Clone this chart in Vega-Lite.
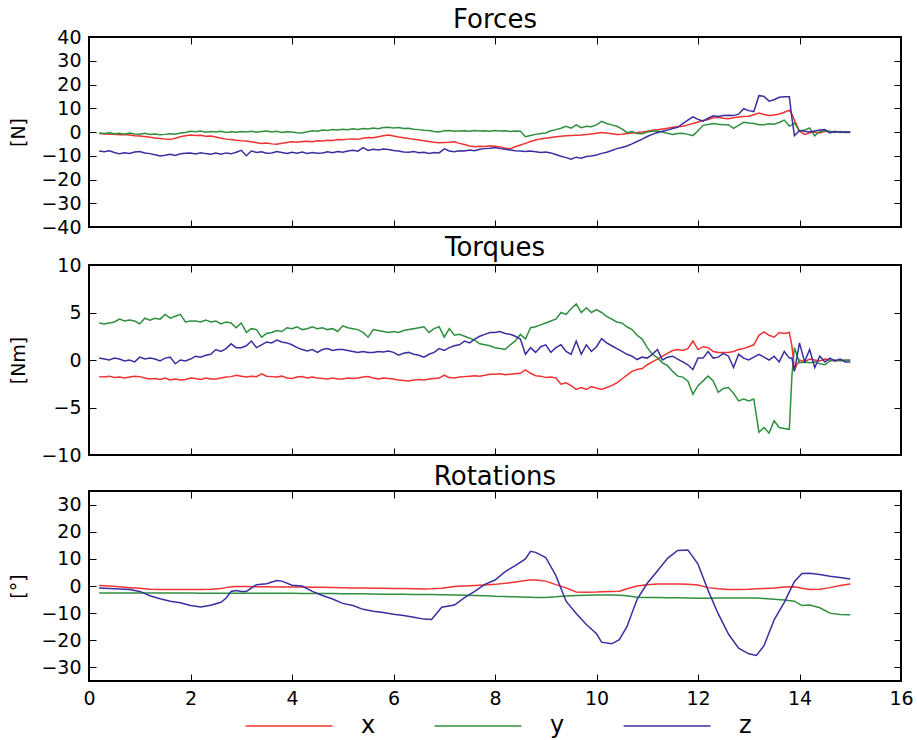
{
  "$schema": "https://vega.github.io/schema/vega-lite/v6.json",
  "padding": {"left": 8, "top": 6, "right": 14, "bottom": 4},
  "datasets": {
    "forces": [
      {"t":0.2,"x":-0.6,"y":-0.4,"z":-8.0},{"t":0.3,"x":-0.8,"y":-0.6,"z":-8.3},{"t":0.4,"x":-0.9,"y":-0.3,"z":-7.9},{"t":0.5,"x":-1.0,"y":-0.7,"z":-8.6},{"t":0.6,"x":-1.2,"y":-0.5,"z":-9.2},{"t":0.7,"x":-1.1,"y":-0.9,"z":-8.7},{"t":0.8,"x":-1.3,"y":-0.4,"z":-9.0},{"t":0.9,"x":-1.6,"y":-0.8,"z":-8.4},
      {"t":1.0,"x":-1.7,"y":-0.9,"z":-8.2},{"t":1.1,"x":-1.9,"y":-0.5,"z":-8.8},{"t":1.2,"x":-2.2,"y":-1.0,"z":-9.1},{"t":1.3,"x":-2.5,"y":-0.8,"z":-9.6},{"t":1.4,"x":-2.7,"y":-1.2,"z":-10.1},{"t":1.5,"x":-3.0,"y":-1.0,"z":-9.8},{"t":1.6,"x":-3.1,"y":-0.7,"z":-9.4},{"t":1.7,"x":-2.6,"y":-0.9,"z":-9.9},{"t":1.8,"x":-2.0,"y":-0.4,"z":-9.2},{"t":1.9,"x":-1.6,"y":-0.2,"z":-8.9},
      {"t":2.0,"x":-1.3,"y":0.3,"z":-8.8},{"t":2.1,"x":-1.5,"y":0.1,"z":-9.3},{"t":2.2,"x":-1.4,"y":0.4,"z":-8.7},{"t":2.3,"x":-1.8,"y":-0.1,"z":-9.1},{"t":2.4,"x":-1.7,"y":0.2,"z":-9.4},{"t":2.5,"x":-2.1,"y":0.0,"z":-8.9},{"t":2.6,"x":-2.6,"y":0.3,"z":-9.4},{"t":2.7,"x":-3.0,"y":-0.2,"z":-8.8},{"t":2.8,"x":-3.2,"y":0.1,"z":-9.2},{"t":2.9,"x":-3.5,"y":-0.1,"z":-8.5},
      {"t":3.0,"x":-3.7,"y":0.2,"z":-7.7},{"t":3.1,"x":-3.8,"y":0.0,"z":-10.0},{"t":3.2,"x":-4.1,"y":0.3,"z":-8.0},{"t":3.3,"x":-4.5,"y":-0.1,"z":-8.6},{"t":3.4,"x":-4.8,"y":0.2,"z":-8.3},{"t":3.5,"x":-4.6,"y":0.4,"z":-8.9},{"t":3.6,"x":-5.0,"y":0.0,"z":-8.8},{"t":3.7,"x":-5.2,"y":0.3,"z":-8.2},{"t":3.8,"x":-4.7,"y":-0.2,"z":-8.6},{"t":3.9,"x":-4.4,"y":0.1,"z":-9.0},
      {"t":4.0,"x":-4.1,"y":0.0,"z":-8.5},{"t":4.1,"x":-4.3,"y":-0.3,"z":-8.9},{"t":4.2,"x":-4.0,"y":-0.4,"z":-8.4},{"t":4.3,"x":-3.9,"y":0.1,"z":-9.0},{"t":4.4,"x":-4.1,"y":0.5,"z":-8.6},{"t":4.5,"x":-3.7,"y":0.3,"z":-8.9},{"t":4.6,"x":-3.8,"y":0.8,"z":-8.8},{"t":4.7,"x":-3.5,"y":0.6,"z":-8.3},{"t":4.8,"x":-3.6,"y":1.0,"z":-8.7},{"t":4.9,"x":-3.2,"y":0.8,"z":-8.2},
      {"t":5.0,"x":-3.3,"y":1.2,"z":-8.5},{"t":5.1,"x":-3.0,"y":1.0,"z":-8.0},{"t":5.2,"x":-2.9,"y":1.4,"z":-7.7},{"t":5.3,"x":-3.1,"y":1.1,"z":-8.1},{"t":5.4,"x":-2.6,"y":1.5,"z":-6.6},{"t":5.5,"x":-2.3,"y":1.3,"z":-7.8},{"t":5.6,"x":-2.4,"y":1.7,"z":-7.3},{"t":5.7,"x":-2.0,"y":1.4,"z":-7.6},{"t":5.8,"x":-1.6,"y":1.9,"z":-7.2},{"t":5.9,"x":-1.3,"y":2.0,"z":-7.4},
      {"t":6.0,"x":-1.7,"y":1.7,"z":-7.8},{"t":6.1,"x":-2.1,"y":1.9,"z":-8.0},{"t":6.2,"x":-2.4,"y":1.5,"z":-8.4},{"t":6.3,"x":-2.7,"y":1.6,"z":-8.5},{"t":6.4,"x":-3.1,"y":1.2,"z":-8.2},{"t":6.5,"x":-3.4,"y":1.0,"z":-8.7},{"t":6.6,"x":-3.7,"y":0.7,"z":-8.5},{"t":6.7,"x":-4.0,"y":0.6,"z":-9.0},{"t":6.8,"x":-4.3,"y":0.2,"z":-8.6},{"t":6.9,"x":-4.5,"y":0.0,"z":-8.8},
      {"t":7.0,"x":-4.4,"y":0.5,"z":-7.1},{"t":7.1,"x":-4.3,"y":0.6,"z":-8.0},{"t":7.2,"x":-4.1,"y":0.3,"z":-8.3},{"t":7.3,"x":-4.8,"y":0.4,"z":-7.9},{"t":7.4,"x":-5.3,"y":0.5,"z":-8.0},{"t":7.5,"x":-5.9,"y":0.3,"z":-7.6},{"t":7.6,"x":-6.2,"y":0.6,"z":-7.9},{"t":7.7,"x":-6.0,"y":0.4,"z":-7.3},{"t":7.8,"x":-6.1,"y":0.5,"z":-7.0},{"t":7.9,"x":-5.8,"y":0.3,"z":-6.8},
      {"t":8.0,"x":-6.0,"y":0.6,"z":-6.5},{"t":8.1,"x":-6.3,"y":0.4,"z":-7.0},{"t":8.2,"x":-6.8,"y":0.5,"z":-7.3},{"t":8.3,"x":-7.0,"y":0.2,"z":-7.6},{"t":8.4,"x":-6.2,"y":0.4,"z":-7.9},{"t":8.5,"x":-5.5,"y":0.3,"z":-8.0},{"t":8.6,"x":-4.8,"y":-2.0,"z":-8.2},{"t":8.7,"x":-4.0,"y":-1.5,"z":-8.0},{"t":8.8,"x":-3.4,"y":-1.0,"z":-8.3},{"t":8.9,"x":-2.9,"y":-0.6,"z":-8.6},
      {"t":9.0,"x":-2.6,"y":-0.4,"z":-8.4},{"t":9.1,"x":-2.3,"y":0.5,"z":-8.8},{"t":9.2,"x":-2.0,"y":1.0,"z":-9.5},{"t":9.3,"x":-1.8,"y":1.6,"z":-10.2},{"t":9.4,"x":-1.6,"y":2.4,"z":-10.8},{"t":9.5,"x":-1.5,"y":1.6,"z":-11.5},{"t":9.6,"x":-1.4,"y":3.0,"z":-10.6},{"t":9.7,"x":-1.3,"y":1.8,"z":-11.0},{"t":9.8,"x":-1.1,"y":2.4,"z":-10.3},{"t":9.9,"x":-0.8,"y":2.2,"z":-10.1},
      {"t":10.0,"x":-0.5,"y":3.0,"z":-9.7},{"t":10.1,"x":-0.2,"y":4.5,"z":-9.0},{"t":10.2,"x":-0.4,"y":3.6,"z":-8.5},{"t":10.3,"x":-0.7,"y":3.0,"z":-7.8},{"t":10.4,"x":-1.0,"y":2.4,"z":-7.0},{"t":10.5,"x":-0.9,"y":1.3,"z":-6.5},{"t":10.6,"x":-0.6,"y":-0.3,"z":-5.9},{"t":10.7,"x":-0.4,"y":0.2,"z":-5.0},{"t":10.8,"x":-0.2,"y":-0.6,"z":-4.0},{"t":10.9,"x":0.0,"y":-0.7,"z":-3.0},
      {"t":11.0,"x":0.3,"y":0.0,"z":-1.9},{"t":11.1,"x":0.7,"y":0.3,"z":-1.0},{"t":11.2,"x":1.0,"y":0.4,"z":-0.2},{"t":11.3,"x":1.3,"y":0.0,"z":0.3},{"t":11.4,"x":1.6,"y":-0.5,"z":0.8},{"t":11.5,"x":2.0,"y":-1.0,"z":1.5},{"t":11.6,"x":2.2,"y":-0.6,"z":2.0},{"t":11.7,"x":2.4,"y":-0.5,"z":3.5},{"t":11.8,"x":3.0,"y":-1.0,"z":5.0},{"t":11.9,"x":3.6,"y":-1.5,"z":6.4},
      {"t":12.0,"x":4.2,"y":0.5,"z":5.3},{"t":12.1,"x":4.8,"y":2.8,"z":4.6},{"t":12.2,"x":5.3,"y":3.2,"z":5.8},{"t":12.3,"x":6.0,"y":3.6,"z":6.8},{"t":12.4,"x":6.2,"y":3.3,"z":6.5},{"t":12.5,"x":5.8,"y":3.1,"z":6.9},{"t":12.6,"x":5.6,"y":3.1,"z":7.0},{"t":12.7,"x":6.0,"y":1.5,"z":6.9},{"t":12.8,"x":6.3,"y":2.8,"z":7.5},{"t":12.9,"x":6.5,"y":4.1,"z":9.8},
      {"t":13.0,"x":6.6,"y":3.8,"z":9.0},{"t":13.1,"x":7.3,"y":3.6,"z":8.6},{"t":13.2,"x":8.0,"y":3.1,"z":15.3},{"t":13.3,"x":7.4,"y":3.1,"z":15.0},{"t":13.4,"x":7.0,"y":3.5,"z":13.0},{"t":13.5,"x":7.2,"y":3.3,"z":13.6},{"t":13.6,"x":7.6,"y":4.0,"z":14.6},{"t":13.7,"x":8.3,"y":5.0,"z":14.8},{"t":13.8,"x":9.2,"y":2.5,"z":14.8},{"t":13.85,"x":7.5,"y":3.0,"z":6.0},{"t":13.9,"x":5.0,"y":3.8,"z":-1.5},
      {"t":14.0,"x":0.3,"y":0.4,"z":0.6},{"t":14.1,"x":-1.0,"y":0.8,"z":0.3},{"t":14.2,"x":-0.3,"y":1.7,"z":0.0},{"t":14.3,"x":0.0,"y":-1.6,"z":0.4},{"t":14.4,"x":-0.4,"y":0.2,"z":0.8},{"t":14.5,"x":0.3,"y":0.6,"z":1.0},{"t":14.6,"x":0.0,"y":0.3,"z":-0.4},{"t":14.7,"x":-0.2,"y":-0.1,"z":0.3},{"t":14.8,"x":0.2,"y":0.2,"z":-0.2},{"t":14.9,"x":-0.1,"y":-0.2,"z":0.1},{"t":15.0,"x":0.0,"y":-0.2,"z":0.0}
    ],
    "torques": [
      {"t":0.2,"x":-1.75,"y":3.9,"z":0.2},{"t":0.3,"x":-1.8,"y":3.8,"z":0.1},{"t":0.4,"x":-1.7,"y":3.9,"z":0.0},{"t":0.5,"x":-1.85,"y":4.0,"z":0.2},{"t":0.6,"x":-1.8,"y":4.3,"z":0.1},{"t":0.7,"x":-1.9,"y":4.1,"z":-0.1},{"t":0.8,"x":-1.8,"y":4.2,"z":0.0},{"t":0.9,"x":-1.7,"y":4.1,"z":-0.2},
      {"t":1.0,"x":-1.75,"y":3.8,"z":0.3},{"t":1.1,"x":-1.9,"y":4.4,"z":0.1},{"t":1.2,"x":-2.0,"y":4.2,"z":0.2},{"t":1.3,"x":-1.95,"y":4.4,"z":0.1},{"t":1.4,"x":-2.05,"y":4.3,"z":-0.1},{"t":1.5,"x":-1.9,"y":4.8,"z":0.2},{"t":1.6,"x":-2.1,"y":4.4,"z":0.3},{"t":1.7,"x":-2.0,"y":4.6,"z":-0.4},{"t":1.8,"x":-2.1,"y":4.8,"z":0.0},{"t":1.9,"x":-2.05,"y":4.0,"z":-0.1},
      {"t":2.0,"x":-1.9,"y":4.1,"z":0.1},{"t":2.1,"x":-1.95,"y":4.1,"z":0.4},{"t":2.2,"x":-2.05,"y":4.0,"z":0.3},{"t":2.3,"x":-1.9,"y":4.2,"z":0.5},{"t":2.4,"x":-2.0,"y":4.0,"z":0.6},{"t":2.5,"x":-2.0,"y":4.1,"z":1.1},{"t":2.6,"x":-1.9,"y":3.8,"z":0.9},{"t":2.7,"x":-1.8,"y":4.0,"z":1.2},{"t":2.8,"x":-1.75,"y":3.9,"z":1.7},{"t":2.9,"x":-1.6,"y":3.4,"z":1.3},
      {"t":3.0,"x":-1.7,"y":3.9,"z":1.3},{"t":3.1,"x":-1.8,"y":2.9,"z":1.5},{"t":3.2,"x":-1.7,"y":3.3,"z":2.0},{"t":3.3,"x":-1.75,"y":3.2,"z":1.3},{"t":3.4,"x":-1.45,"y":2.4,"z":1.6},{"t":3.5,"x":-1.7,"y":2.8,"z":1.9},{"t":3.6,"x":-1.75,"y":2.9,"z":1.8},{"t":3.7,"x":-1.8,"y":3.1,"z":2.1},{"t":3.8,"x":-1.7,"y":3.0,"z":1.9},{"t":3.9,"x":-1.9,"y":3.4,"z":1.8},
      {"t":4.0,"x":-1.95,"y":3.3,"z":1.6},{"t":4.1,"x":-1.8,"y":3.5,"z":1.3},{"t":4.2,"x":-1.75,"y":3.2,"z":1.1},{"t":4.3,"x":-1.9,"y":3.3,"z":0.95},{"t":4.4,"x":-1.8,"y":3.5,"z":1.1},{"t":4.5,"x":-1.9,"y":3.3,"z":0.8},{"t":4.6,"x":-1.95,"y":3.4,"z":1.1},{"t":4.7,"x":-2.0,"y":3.2,"z":1.2},{"t":4.8,"x":-1.9,"y":3.3,"z":1.0},{"t":4.9,"x":-2.0,"y":3.0,"z":1.1},
      {"t":5.0,"x":-2.0,"y":3.6,"z":1.1},{"t":5.1,"x":-1.9,"y":3.4,"z":1.0},{"t":5.2,"x":-1.95,"y":3.3,"z":0.9},{"t":5.3,"x":-1.9,"y":3.2,"z":0.8},{"t":5.4,"x":-1.8,"y":2.9,"z":0.9},{"t":5.5,"x":-1.75,"y":2.4,"z":0.8},{"t":5.6,"x":-1.9,"y":3.2,"z":0.8},{"t":5.7,"x":-2.0,"y":3.1,"z":0.9},{"t":5.8,"x":-1.9,"y":3.0,"z":0.85},{"t":5.9,"x":-1.95,"y":2.9,"z":0.95},
      {"t":6.0,"x":-2.0,"y":3.0,"z":0.8},{"t":6.1,"x":-2.1,"y":2.9,"z":0.5},{"t":6.2,"x":-2.15,"y":3.1,"z":0.7},{"t":6.3,"x":-2.2,"y":3.2,"z":0.8},{"t":6.4,"x":-2.1,"y":3.3,"z":0.6},{"t":6.5,"x":-2.05,"y":3.4,"z":0.5},{"t":6.6,"x":-2.1,"y":3.5,"z":0.3},{"t":6.7,"x":-2.0,"y":2.9,"z":0.6},{"t":6.8,"x":-1.95,"y":3.3,"z":0.8},{"t":6.9,"x":-1.9,"y":3.5,"z":1.2},
      {"t":7.0,"x":-1.6,"y":2.4,"z":1.0},{"t":7.1,"x":-1.85,"y":3.3,"z":1.3},{"t":7.2,"x":-1.9,"y":2.6,"z":1.5},{"t":7.3,"x":-1.8,"y":2.7,"z":1.6},{"t":7.4,"x":-1.75,"y":2.5,"z":2.0},{"t":7.5,"x":-1.7,"y":2.3,"z":1.8},{"t":7.6,"x":-1.65,"y":2.1,"z":2.2},{"t":7.7,"x":-1.7,"y":1.7,"z":2.5},{"t":7.8,"x":-1.6,"y":1.6,"z":2.7},{"t":7.9,"x":-1.5,"y":1.5,"z":2.9},
      {"t":8.0,"x":-1.5,"y":1.3,"z":2.9},{"t":8.1,"x":-1.45,"y":1.2,"z":3.0},{"t":8.2,"x":-1.55,"y":1.1,"z":2.8},{"t":8.3,"x":-1.5,"y":1.6,"z":2.7},{"t":8.4,"x":-1.45,"y":2.0,"z":2.5},{"t":8.5,"x":-1.4,"y":2.7,"z":2.2},{"t":8.6,"x":-1.05,"y":2.2,"z":0.6},{"t":8.7,"x":-1.4,"y":3.4,"z":1.3},{"t":8.8,"x":-1.65,"y":3.5,"z":0.8},{"t":8.9,"x":-1.7,"y":3.7,"z":1.4},
      {"t":9.0,"x":-1.85,"y":3.9,"z":1.6},{"t":9.1,"x":-1.8,"y":4.1,"z":0.8},{"t":9.2,"x":-1.9,"y":4.3,"z":1.3},{"t":9.3,"x":-2.55,"y":5.0,"z":1.6},{"t":9.4,"x":-2.4,"y":4.8,"z":0.9},{"t":9.5,"x":-2.7,"y":5.4,"z":0.6},{"t":9.6,"x":-3.1,"y":5.9,"z":2.0},{"t":9.7,"x":-2.9,"y":5.0,"z":0.6},{"t":9.8,"x":-3.1,"y":5.5,"z":1.6},{"t":9.9,"x":-2.8,"y":5.0,"z":0.9},
      {"t":10.0,"x":-2.95,"y":5.3,"z":1.4},{"t":10.1,"x":-3.1,"y":5.0,"z":2.25},{"t":10.2,"x":-2.9,"y":4.6,"z":1.8},{"t":10.3,"x":-2.7,"y":4.3,"z":1.5},{"t":10.4,"x":-2.4,"y":4.0,"z":1.2},{"t":10.5,"x":-2.0,"y":3.9,"z":0.9},{"t":10.6,"x":-1.6,"y":3.5,"z":0.6},{"t":10.7,"x":-1.2,"y":3.2,"z":0.4},{"t":10.8,"x":-1.0,"y":2.6,"z":0.05},{"t":10.9,"x":-0.9,"y":2.2,"z":0.3},
      {"t":11.0,"x":-0.5,"y":1.3,"z":0.2},{"t":11.1,"x":-0.2,"y":0.6,"z":0.6},{"t":11.2,"x":0.1,"y":0.25,"z":1.1},{"t":11.3,"x":0.4,"y":-0.3,"z":0.0},{"t":11.4,"x":0.7,"y":-0.6,"z":0.3},{"t":11.5,"x":1.0,"y":-1.2,"z":0.4},{"t":11.6,"x":1.1,"y":-1.7,"z":0.1},{"t":11.7,"x":1.0,"y":-1.8,"z":-0.2},{"t":11.8,"x":1.2,"y":-2.2,"z":-0.5},{"t":11.9,"x":2.0,"y":-3.6,"z":-1.0},
      {"t":12.0,"x":1.1,"y":-2.7,"z":0.2},{"t":12.1,"x":1.4,"y":-2.2,"z":0.2},{"t":12.2,"x":1.3,"y":-1.7,"z":0.9},{"t":12.3,"x":0.9,"y":-2.2,"z":0.2},{"t":12.4,"x":0.8,"y":-3.4,"z":0.3},{"t":12.5,"x":0.8,"y":-3.0,"z":0.7},{"t":12.6,"x":0.8,"y":-2.9,"z":0.4},{"t":12.7,"x":0.9,"y":-3.5,"z":-0.8},{"t":12.8,"x":1.1,"y":-4.3,"z":0.6},{"t":12.9,"x":1.2,"y":-4.1,"z":0.2},
      {"t":13.0,"x":1.4,"y":-4.3,"z":0.0},{"t":13.1,"x":1.6,"y":-4.1,"z":0.3},{"t":13.2,"x":2.6,"y":-7.6,"z":0.6},{"t":13.3,"x":2.95,"y":-7.1,"z":0.3},{"t":13.4,"x":2.6,"y":-7.7,"z":0.0},{"t":13.5,"x":2.4,"y":-6.4,"z":0.4},{"t":13.6,"x":2.9,"y":-7.1,"z":-0.2},{"t":13.7,"x":2.8,"y":-7.2,"z":0.9},{"t":13.8,"x":2.9,"y":-7.3,"z":0.2},{"t":13.85,"x":1.5,"y":-1.7,"z":0.2},{"t":13.9,"x":-1.0,"y":1.3,"z":-1.2},
      {"t":14.0,"x":0.0,"y":-0.3,"z":1.8},{"t":14.1,"x":-0.2,"y":-0.2,"z":-0.2},{"t":14.2,"x":0.1,"y":-0.3,"z":1.1},{"t":14.3,"x":0.0,"y":-0.2,"z":-0.8},{"t":14.4,"x":-0.1,"y":-0.4,"z":0.4},{"t":14.5,"x":0.1,"y":-0.5,"z":-0.2},{"t":14.6,"x":0.0,"y":-0.1,"z":0.2},{"t":14.7,"x":-0.1,"y":0.0,"z":-0.1},{"t":14.8,"x":0.0,"y":-0.1,"z":0.1},{"t":14.9,"x":-0.05,"y":0.0,"z":-0.2},{"t":15.0,"x":0.0,"y":-0.05,"z":-0.2}
    ],
    "rotations": [
      {"t":0.2,"x":0.15,"y":-2.6,"z":-0.7},{"t":0.4,"x":0.0,"y":-2.6,"z":-0.9},{"t":0.6,"x":-0.3,"y":-2.6,"z":-1.1},{"t":0.8,"x":-0.6,"y":-2.6,"z":-1.3},{"t":1.0,"x":-0.85,"y":-2.6,"z":-2.0},{"t":1.2,"x":-1.2,"y":-2.6,"z":-3.6},{"t":1.4,"x":-1.3,"y":-2.6,"z":-4.7},{"t":1.6,"x":-1.3,"y":-2.6,"z":-5.6},{"t":1.8,"x":-1.3,"y":-2.6,"z":-6.2},
      {"t":2.0,"x":-1.3,"y":-2.6,"z":-7.2},{"t":2.2,"x":-1.3,"y":-2.65,"z":-7.7},{"t":2.4,"x":-1.2,"y":-2.65,"z":-7.1},{"t":2.6,"x":-0.9,"y":-2.65,"z":-6.0},{"t":2.7,"x":-0.6,"y":-2.65,"z":-4.5},{"t":2.8,"x":-0.3,"y":-2.65,"z":-2.0},{"t":2.9,"x":-0.2,"y":-2.65,"z":-1.7},{"t":3.0,"x":-0.2,"y":-2.7,"z":-2.0},{"t":3.1,"x":-0.2,"y":-2.7,"z":-2.0},
      {"t":3.3,"x":-0.3,"y":-2.7,"z":0.5},{"t":3.5,"x":-0.3,"y":-2.7,"z":0.8},{"t":3.7,"x":-0.35,"y":-2.7,"z":2.0},{"t":3.8,"x":-0.35,"y":-2.7,"z":1.8},{"t":4.0,"x":-0.4,"y":-2.7,"z":0.3},{"t":4.2,"x":-0.4,"y":-2.75,"z":0.0},{"t":4.4,"x":-0.45,"y":-2.75,"z":-2.0},{"t":4.6,"x":-0.5,"y":-2.8,"z":-3.5},{"t":4.8,"x":-0.55,"y":-2.8,"z":-4.8},
      {"t":5.0,"x":-0.6,"y":-2.85,"z":-6.4},{"t":5.2,"x":-0.7,"y":-2.9,"z":-7.2},{"t":5.4,"x":-0.75,"y":-2.9,"z":-8.6},{"t":5.6,"x":-0.8,"y":-2.95,"z":-9.3},{"t":5.8,"x":-0.85,"y":-3.0,"z":-9.8},{"t":6.0,"x":-0.9,"y":-3.0,"z":-10.4},{"t":6.2,"x":-0.95,"y":-3.05,"z":-10.9},{"t":6.4,"x":-1.0,"y":-3.1,"z":-11.5},{"t":6.6,"x":-1.1,"y":-3.1,"z":-12.2},{"t":6.75,"x":-1.05,"y":-3.15,"z":-12.3},
      {"t":6.95,"x":-0.8,"y":-3.2,"z":-7.8},{"t":7.2,"x":-0.2,"y":-3.3,"z":-7.0},{"t":7.4,"x":0.0,"y":-3.4,"z":-4.3},{"t":7.6,"x":0.2,"y":-3.5,"z":-2.0},{"t":7.8,"x":0.4,"y":-3.6,"z":0.6},{"t":8.0,"x":0.6,"y":-3.8,"z":2.2},{"t":8.2,"x":1.0,"y":-3.9,"z":5.3},{"t":8.4,"x":1.5,"y":-4.0,"z":7.5},{"t":8.6,"x":2.0,"y":-4.1,"z":10.0},{"t":8.7,"x":2.2,"y":-4.15,"z":12.8},{"t":8.8,"x":2.2,"y":-4.2,"z":12.4},
      {"t":9.0,"x":1.8,"y":-4.2,"z":10.5},{"t":9.2,"x":0.5,"y":-4.0,"z":3.8},{"t":9.4,"x":-0.7,"y":-3.7,"z":-5.6},{"t":9.6,"x":-2.2,"y":-3.5,"z":-10.1},{"t":9.8,"x":-2.3,"y":-3.4,"z":-14.2},{"t":10.0,"x":-2.2,"y":-3.3,"z":-17.6},{"t":10.1,"x":-2.1,"y":-3.3,"z":-20.7},{"t":10.3,"x":-2.0,"y":-3.35,"z":-21.3},{"t":10.45,"x":-1.9,"y":-3.4,"z":-19.8},{"t":10.6,"x":-1.0,"y":-3.6,"z":-15.0},{"t":10.8,"x":0.0,"y":-4.1,"z":-4.9},
      {"t":11.0,"x":0.5,"y":-4.2,"z":1.0},{"t":11.2,"x":0.7,"y":-4.25,"z":5.5},{"t":11.4,"x":0.7,"y":-4.3,"z":10.2},{"t":11.6,"x":0.7,"y":-4.35,"z":13.1},{"t":11.8,"x":0.6,"y":-4.4,"z":13.3},{"t":12.0,"x":0.4,"y":-4.5,"z":8.1},{"t":12.2,"x":-0.6,"y":-4.5,"z":-1.7},{"t":12.4,"x":-1.0,"y":-4.45,"z":-10.3},{"t":12.6,"x":-1.3,"y":-4.45,"z":-17.7},{"t":12.8,"x":-1.3,"y":-4.4,"z":-22.9},
      {"t":13.0,"x":-1.2,"y":-4.4,"z":-25.0},{"t":13.15,"x":-1.0,"y":-4.45,"z":-25.6},{"t":13.3,"x":-0.9,"y":-4.6,"z":-22.0},{"t":13.5,"x":-0.7,"y":-4.9,"z":-12.5},{"t":13.7,"x":-0.4,"y":-5.2,"z":-6.0},{"t":13.9,"x":-0.3,"y":-5.6,"z":1.7},{"t":14.05,"x":-0.8,"y":-7.2,"z":4.6},{"t":14.2,"x":-1.3,"y":-7.0,"z":4.7},{"t":14.4,"x":-1.2,"y":-8.0,"z":4.2},{"t":14.6,"x":-0.6,"y":-10.0,"z":3.6},{"t":14.8,"x":0.2,"y":-10.5,"z":3.1},{"t":15.0,"x":0.7,"y":-10.6,"z":2.6}
    ]
  },
  "config": {
    "font": "DejaVu Sans",
    "view": {"stroke": "#000000", "strokeWidth": 2},
    "axis": {"grid": false, "domain": false, "tickColor": "#000000", "tickSize": -7, "tickWidth": 1, "labelFontSize": 19, "labelColor": "#000000", "labelPadding": 15, "titleFontSize": 19, "titleFontWeight": "normal", "titleColor": "#000000", "titlePadding": 12, "labelFlush": false, "labelOverlap": false},
    "title": {"fontSize": 26, "fontWeight": "normal", "color": "#000000", "offset": -5, "anchor": "middle", "frame": "group"},
    "legend": {"orient": "bottom", "direction": "horizontal", "symbolType": "M-1,0H15", "symbolSize": 118, "symbolStrokeWidth": 1.5, "labelFontSize": 24, "labelColor": "#000000", "labelOffset": 98, "columnPadding": 52, "offset": 5, "padding": 0, "layout": {"bottom": {"anchor": "middle"}}},
    "concat": {"spacing": -4}
  },
  "resolve": {"scale": {"color": "shared"}, "legend": {"color": "shared"}},
  "vconcat": [
    {
      "title": "Forces",
      "width": 812, "height": 190,
      "data": {"name": "forces"},
      "transform": [{"fold": ["x", "y", "z"], "as": ["comp", "val"]}],
      "layer": [
        {"mark": {"type": "line", "strokeWidth": 1.5},
         "encoding": {
           "x": {"field": "t", "type": "quantitative", "scale": {"domain": [0, 16], "nice": false, "zero": false}, "axis": {"orient": "bottom", "values": [0,2,4,6,8,10,12,14,16], "labels": false, "title": null, "minExtent": 0, "maxExtent": 0}},
           "y": {"field": "val", "type": "quantitative", "scale": {"domain": [-40, 40], "nice": false}, "axis": {"orient": "left", "values": [-40,-30,-20,-10,0,10,20,30,40], "title": "[N]"}},
           "color": {"field": "comp", "type": "nominal", "scale": {"domain": ["x", "y", "z"], "range": ["#f03232", "#2f8f3f", "#3a2f9e"]}, "legend": {"title": null}},
           "order": {"field": "t", "type": "quantitative"}
         }},
        {"mark": {"type": "point", "opacity": 0},
         "encoding": {
           "x": {"field": "t", "type": "quantitative", "scale": {"domain": [0, 16], "nice": false, "zero": false}, "axis": {"orient": "top", "values": [0,2,4,6,8,10,12,14,16], "labels": false, "title": null, "minExtent": 0, "maxExtent": 0}},
           "y": {"field": "val", "type": "quantitative", "scale": {"domain": [-40, 40], "nice": false}, "axis": {"orient": "right", "values": [-40,-30,-20,-10,0,10,20,30,40], "labels": false, "title": null, "minExtent": 0, "maxExtent": 0}}
         }}
      ],
      "resolve": {"axis": {"x": "independent", "y": "independent"}}
    },
    {
      "title": "Torques",
      "width": 812, "height": 190,
      "data": {"name": "torques"},
      "transform": [{"fold": ["x", "y", "z"], "as": ["comp", "val"]}],
      "layer": [
        {"mark": {"type": "line", "strokeWidth": 1.5},
         "encoding": {
           "x": {"field": "t", "type": "quantitative", "scale": {"domain": [0, 16], "nice": false, "zero": false}, "axis": {"orient": "bottom", "values": [0,2,4,6,8,10,12,14,16], "labels": false, "title": null, "minExtent": 0, "maxExtent": 0}},
           "y": {"field": "val", "type": "quantitative", "scale": {"domain": [-10, 10], "nice": false}, "axis": {"orient": "left", "values": [-10,-5,0,5,10], "title": "[Nm]"}},
           "color": {"field": "comp", "type": "nominal", "scale": {"domain": ["x", "y", "z"], "range": ["#f03232", "#2f8f3f", "#3a2f9e"]}, "legend": {"title": null}},
           "order": {"field": "t", "type": "quantitative"}
         }},
        {"mark": {"type": "point", "opacity": 0},
         "encoding": {
           "x": {"field": "t", "type": "quantitative", "scale": {"domain": [0, 16], "nice": false, "zero": false}, "axis": {"orient": "top", "values": [0,2,4,6,8,10,12,14,16], "labels": false, "title": null, "minExtent": 0, "maxExtent": 0}},
           "y": {"field": "val", "type": "quantitative", "scale": {"domain": [-10, 10], "nice": false}, "axis": {"orient": "right", "values": [-10,-5,0,5,10], "labels": false, "title": null, "minExtent": 0, "maxExtent": 0}}
         }}
      ],
      "resolve": {"axis": {"x": "independent", "y": "independent"}}
    },
    {
      "title": {"text": "Rotations", "offset": 1},
      "width": 812, "height": 190,
      "data": {"name": "rotations"},
      "transform": [{"fold": ["x", "y", "z"], "as": ["comp", "val"]}],
      "layer": [
        {"mark": {"type": "line", "strokeWidth": 1.5},
         "encoding": {
           "x": {"field": "t", "type": "quantitative", "scale": {"domain": [0, 16], "nice": false, "zero": false}, "axis": {"orient": "bottom", "values": [0,2,4,6,8,10,12,14,16], "title": null}},
           "y": {"field": "val", "type": "quantitative", "scale": {"domain": [-35, 35], "nice": false}, "axis": {"orient": "left", "values": [-30,-20,-10,0,10,20,30], "title": "[°]"}},
           "color": {"field": "comp", "type": "nominal", "scale": {"domain": ["x", "y", "z"], "range": ["#f03232", "#2f8f3f", "#3a2f9e"]}, "legend": {"title": null}},
           "order": {"field": "t", "type": "quantitative"}
         }},
        {"mark": {"type": "point", "opacity": 0},
         "encoding": {
           "x": {"field": "t", "type": "quantitative", "scale": {"domain": [0, 16], "nice": false, "zero": false}, "axis": {"orient": "top", "values": [0,2,4,6,8,10,12,14,16], "labels": false, "title": null, "minExtent": 0, "maxExtent": 0}},
           "y": {"field": "val", "type": "quantitative", "scale": {"domain": [-35, 35], "nice": false}, "axis": {"orient": "right", "values": [-30,-20,-10,0,10,20,30], "labels": false, "title": null, "minExtent": 0, "maxExtent": 0}}
         }}
      ],
      "resolve": {"axis": {"x": "independent", "y": "independent"}}
    }
  ]
}
